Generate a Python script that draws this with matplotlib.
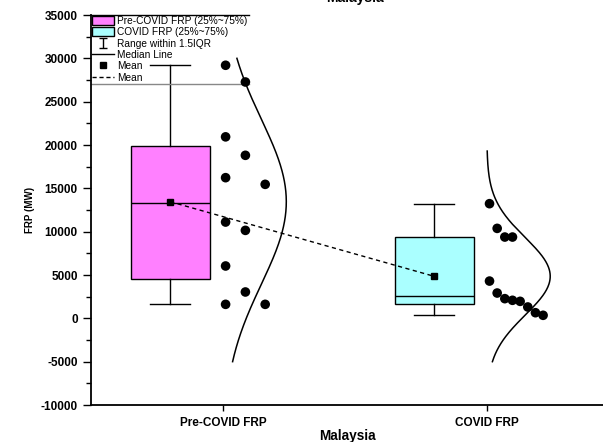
import numpy as np
import matplotlib
matplotlib.use("Agg")
import matplotlib.pyplot as plt
from matplotlib.lines import Line2D
from matplotlib.patches import Patch
from matplotlib.ticker import MultipleLocator

plt.rcParams["font.family"] = ["Liberation Sans", "DejaVu Sans"]
plt.rcParams["axes.unicode_minus"] = False

# values (FRP in MW)
groups = ["Pre-COVID FRP", "COVID FRP"]
pre_covid = [29200, 27270, 20940, 18810, 16230, 15460, 11110, 10150, 6040, 3040, 1615, 1615]
covid = [13230, 10380, 9380, 9380, 4300, 2920, 2270, 2080, 1960, 1310, 650, 350]
curve_bottom = [-5000, -5000]
curve_top = [30000, 19300]

box_colors = ["#FF80FF", "#AAFFFF"]
cat_pos = np.array([1.0, 2.0])
box_pos = cat_pos - 0.2


def swarm_columns(vals, gap):
    # greedy layout: put each point in the first column with no close neighbour
    cols = []
    placed = []
    for v in sorted(vals, reverse=True):
        c = 0
        while any(pc == c and abs(pv - v) < gap for pv, pc in placed):
            c += 1
        placed.append((v, c))
        cols.append(c)
    return np.array(sorted(vals, reverse=True)), np.array(cols)


fig = plt.figure(figsize=(6.03, 4.42), dpi=100)
ax = fig.add_axes([91 / 603, 1 - 405 / 442, 1 - 91 / 603, 390 / 442])

data = [pre_covid, covid]
gaps = [3400, 4000]
steps = [0.075, 0.029]

stats = []
means = []
for i, vals in enumerate(data):
    v = np.array(vals, dtype=float)
    q1, med, q3 = np.percentile(v, [25, 50, 75], method="midpoint")
    stats.append(dict(med=med, q1=q1, q3=q3, whislo=v.min(), whishi=v.max(),
                      mean=v.mean(), fliers=[]))
    means.append(v.mean())

    # normal curve, scaled to a fixed width
    y = np.linspace(curve_bottom[i], curve_top[i], 300)
    pdf = np.exp(-0.5 * ((y - v.mean()) / v.std(ddof=1)) ** 2)
    ax.plot(cat_pos[i] + 0.24 * pdf, y, color="k", lw=1.1, zorder=2)

    # data points
    sv, cols = swarm_columns(vals, gaps[i])
    ax.scatter(cat_pos[i] + 0.01 + cols * steps[i], sv, s=48, color="k",
               edgecolors="none", zorder=3)

bp = ax.bxp(stats, positions=box_pos, widths=0.3, capwidths=0.15,
            patch_artist=True, showmeans=True, showfliers=False,
            boxprops=dict(edgecolor="k", linewidth=1),
            medianprops=dict(color="k", linewidth=1),
            whiskerprops=dict(color="k", linewidth=1),
            capprops=dict(color="k", linewidth=1),
            meanprops=dict(marker="s", markerfacecolor="k",
                           markeredgecolor="k", markersize=5))
for patch, c in zip(bp["boxes"], box_colors):
    patch.set_facecolor(c)

ax.plot(box_pos, means, color="k", ls="--", dashes=(3, 2.5), lw=1, zorder=4)

ax.set_xlim(0.5, 2.44)
ax.set_ylim(-10000, 35000)
ax.set_xticks(cat_pos, groups)
ax.yaxis.set_major_locator(MultipleLocator(5000))
ax.yaxis.set_minor_locator(MultipleLocator(2500))
ax.tick_params(axis="y", which="major", direction="out", length=6, width=1,
               labelsize=8.5)
ax.tick_params(axis="y", which="minor", direction="out", length=3.5, width=1)
ax.tick_params(axis="x", direction="out", length=4.5, width=1, labelsize=8.5, pad=4)
for lab in ax.get_xticklabels() + ax.get_yticklabels():
    lab.set_fontweight("bold")

for s in ["top", "right"]:
    ax.spines[s].set_visible(False)
for s in ["left", "bottom"]:
    ax.spines[s].set_linewidth(1.3)

ax.set_xlabel("Malaysia", fontsize=9.8, fontweight="bold", labelpad=0)
ax.set_ylabel("FRP (MW)", fontsize=7, fontweight="bold", labelpad=4)
fig.text(0.589, 1 - 2 / 442, "Malaysia", ha="center", va="baseline",
         fontsize=10, fontweight="bold")

# legend
eb = ax.errorbar([np.nan], [np.nan], yerr=[1], fmt="none", ecolor="k",
                 elinewidth=1, capsize=3)
handles = [
    Patch(facecolor=box_colors[0], edgecolor="k"),
    Patch(facecolor=box_colors[1], edgecolor="k"),
    eb,
    Line2D([], [], color="k", lw=1),
    Line2D([], [], ls="none", marker="s", color="k", markersize=5),
    Line2D([], [], color="k", ls="--", dashes=(3, 2), lw=1),
]
labels = ["Pre-COVID FRP (25%~75%)", "COVID FRP (25%~75%)", "Range within 1.5IQR",
          "Median Line", "Mean", "Mean"]
leg = ax.legend(handles, labels, loc="upper left", bbox_to_anchor=(0, 1),
                borderaxespad=0, borderpad=0.1, frameon=False, fontsize=7.3,
                handlelength=2.2, handleheight=1.0, handletextpad=0.3,
                labelspacing=0.13)

fig.canvas.draw()
bb = leg.get_window_extent().transformed(ax.transAxes.inverted())
ax.plot([0, bb.x1], [1, 1], transform=ax.transAxes, color="k", lw=1, clip_on=False)
ax.plot([0, bb.x1], [bb.y0, bb.y0], transform=ax.transAxes, color="#888888",
        lw=1, clip_on=False)

fig.savefig("out.png", dpi=100)
